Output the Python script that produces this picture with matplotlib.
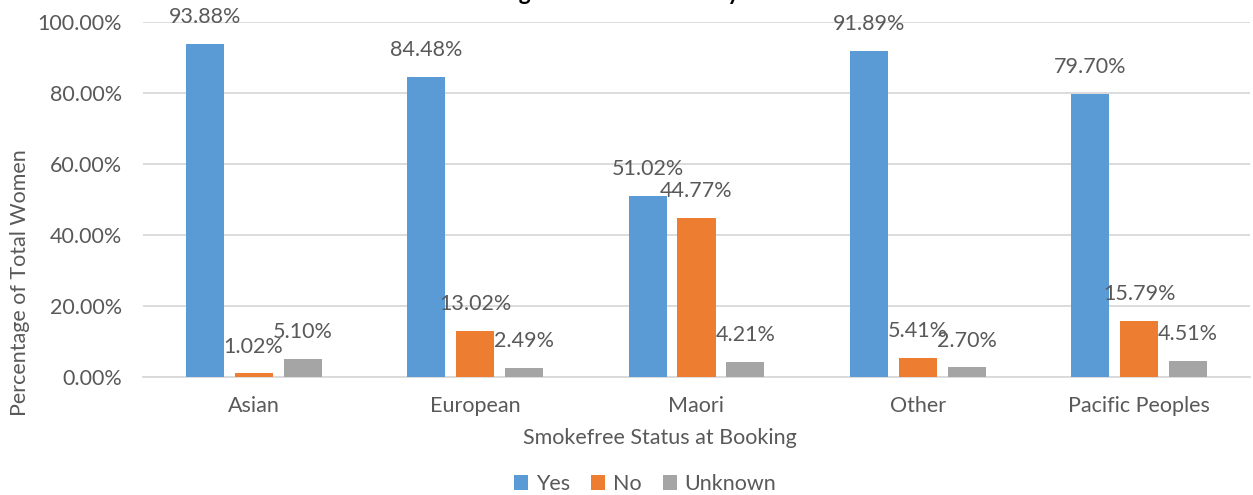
#!/usr/bin/env python3
# -*- coding: utf-8 -*-

import numpy as np
import matplotlib
matplotlib.use("Agg")
import matplotlib.pyplot as plt
from matplotlib.ticker import FuncFormatter

categories = ["Asian", "European", "Maori", "Other", "Pacific Peoples"]
yes_vals = [93.88, 84.48, 51.02, 91.89, 79.70]
no_vals = [1.02, 13.02, 44.77, 5.41, 15.79]
unknown_vals = [5.10, 2.49, 4.21, 2.70, 4.51]
series_names = ["Yes", "No", "Unknown"]

colors = ["#5B9BD5", "#ED7D31", "#A5A5A5"]
text_col = "#595959"

plt.rcParams["font.family"] = ["Lato", "DejaVu Sans"]


def make_plot():
    fig = plt.figure(figsize=(12.53, 4.95), dpi=100)
    ax = fig.add_axes([0.1141, 0.2384, 0.8835, 0.7172])

    x = np.arange(len(categories))
    width = 0.172
    step = 0.221
    all_vals = [yes_vals, no_vals, unknown_vals]
    for i, (vals, name) in enumerate(zip(all_vals, series_names)):
        pos = x + (i - 1) * step
        bars = ax.bar(pos, vals, width, color=colors[i], label=name, zorder=3)
        for b, v in zip(bars, vals):
            ax.annotate("%.2f%%" % v, (b.get_x() + b.get_width() / 2, v),
                        xytext=(0, 12), textcoords="offset points",
                        ha="center", va="bottom", fontsize=15.5,
                        color=text_col, annotation_clip=False)

    ax.set_xlim(-0.5, len(categories) - 0.5)
    ax.set_ylim(0, 100)
    ax.set_yticks(np.arange(0, 101, 20))
    ax.yaxis.set_major_formatter(FuncFormatter(lambda v, p: "%.2f%%" % v))
    ax.set_xticks(x)
    ax.set_xticklabels(categories)
    ax.tick_params(axis="both", length=0, labelsize=15.5, labelcolor=text_col)
    ax.tick_params(axis="y", pad=15)
    ax.tick_params(axis="x", pad=14)
    ax.grid(axis="y", color="#D9D9D9", linewidth=1.3, zorder=0)
    for s in ["top", "right", "left"]:
        ax.spines[s].set_visible(False)
    ax.spines["bottom"].set_color("#D9D9D9")
    ax.spines["bottom"].set_linewidth(1.3)

    fig.text(0.016, 0.43, "Percentage of Total Women", rotation=90,
             ha="center", va="center", fontsize=15.5, color=text_col)
    fig.text(0.527, 0.115, "Smokefree Status at Booking", ha="center",
             va="center", fontsize=15.5, color=text_col)
    # title is cut off at the top edge of the picture
    fig.text(443 / 1253, 1.0, "Smoking Status and Ethnicity", ha="left",
             va="baseline", fontsize=16.5, fontweight="bold", color="black")

    fig.legend(loc="center", bbox_to_anchor=(0.515, 0.022), ncol=3,
               frameon=False, fontsize=15.5, handlelength=0.65,
               handleheight=0.65, handletextpad=0.35, columnspacing=1.0,
               labelcolor=text_col)

    fig.savefig("out.png", dpi=100)


def main():
    make_plot()


if __name__ == "__main__":
    main()
